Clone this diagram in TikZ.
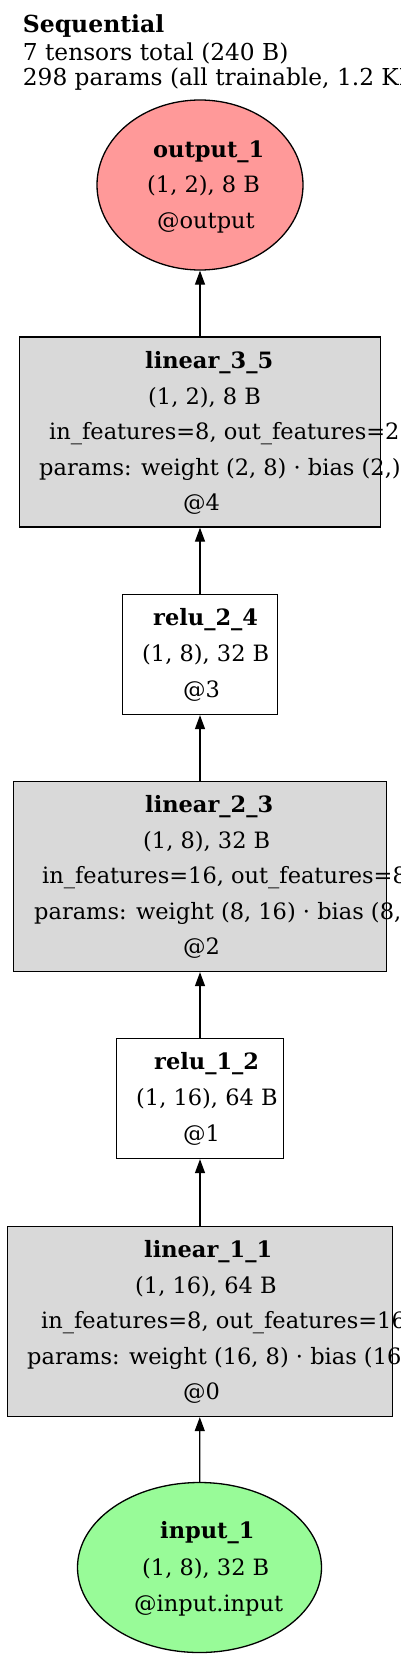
\documentclass[tikz,border=0pt]{standalone}
\usepackage{fontspec}
\setmainfont{DejaVu Serif}
\usetikzlibrary{arrows.meta,shapes.geometric}
\definecolor{boxgray}{RGB}{217,217,217}
\definecolor{outred}{RGB}{255,153,153}
\definecolor{ingreen}{RGB}{152,251,152}
\tikzset{
 basenode/.style={draw=black, line width=1.3pt, inner sep=0pt},
 layerbox/.style={basenode, rectangle, fill=boxgray, minimum height=190pt},
 relubox/.style={basenode, rectangle, fill=white, minimum height=120pt},
 outnode/.style={basenode, ellipse, fill=outred},
 innode/.style={basenode, ellipse, fill=ingreen},
 conn/.style={line width=1.3pt, -{Triangle[length=14pt,width=10pt]}},
 txt/.style={anchor=base west, inner sep=0pt, font=\fontsize{22.5}{27}\selectfont},
 ttl/.style={txt, font=\fontsize{22.5}{27}\selectfont\bfseries},
 hdr/.style={anchor=base west, inner sep=0pt, font=\fontsize{23.3}{24}\selectfont},
}
\begin{document}
\begin{tikzpicture}[x=1pt,y=1pt]
\useasboundingbox (0,0) rectangle (400,-1662);
\node[hdr, font=\fontsize{23.5}{24}\selectfont\bfseries] (h1) at (22.7,-33) {Sequential};
\node[hdr] (h2) at (22.7,-61) {7 tensors total (240 B)};
\node[hdr] (h3) at (22.7,-85) {298 params (all trainable, 1.2 KB)};

% shapes
\node[outnode, minimum width=206pt, minimum height=170pt] (out) at (200,-185) {};
\node[layerbox, minimum width=361pt] (lin3) at (200,-432) {};
\node[relubox, minimum width=155pt] (relu2) at (200,-654.5) {};
\node[layerbox, minimum width=373pt] (lin2) at (200,-876.5) {};
\node[relubox, minimum width=167pt] (relu1) at (200,-1098.5) {};
\node[layerbox, minimum width=385pt] (lin1) at (200,-1321.5) {};
\node[innode, minimum width=244pt, minimum height=170pt] (in) at (199.5,-1567.5) {};

% labels
\node[ttl] (outA) at (153,-157) {output\_1};
\node[txt] (outB) at (147,-192.5) {(1, 2), 8 B};
\node[txt] (outC) at (157,-228) {@output};

\node[ttl] (l3A) at (145,-368) {linear\_3\_5};
\node[txt] (l3B) at (148,-404) {(1, 2), 8 B};
\node[txt] (l3C) at (49,-439) {in\_features=8, out\_features=2};
\node[txt] (l3D) at (39,-475) {params: weight (2, 8) · bias (2,)};
\node[txt] (l3E) at (183,-510) {@4};

\node[ttl] (r2A) at (153,-625) {relu\_2\_4};
\node[txt] (r2B) at (142,-661.5) {(1, 8), 32 B};
\node[txt] (r2C) at (183,-697) {@3};

\node[ttl] (l2A) at (145,-812) {linear\_2\_3};
\node[txt] (l2B) at (143,-848) {(1, 8), 32 B};
\node[txt] (l2C) at (42,-883) {in\_features=16, out\_features=8};
\node[txt] (l2D) at (34,-919) {params: weight (8, 16) · bias (8,)};
\node[txt] (l2E) at (183,-954) {@2};

\node[ttl] (r1A) at (154,-1069) {relu\_1\_2};
\node[txt] (r1B) at (136,-1105.5) {(1, 16), 64 B};
\node[txt] (r1C) at (183,-1141) {@1};

\node[ttl] (l1A) at (144,-1257) {linear\_1\_1};
\node[txt] (l1B) at (135,-1293) {(1, 16), 64 B};
\node[txt] (l1C) at (41,-1328) {in\_features=8, out\_features=16};
\node[txt] (l1D) at (27,-1364) {params: weight (16, 8) · bias (16,)};
\node[txt] (l1E) at (183,-1399) {@0};

\node[ttl] (inA) at (160,-1538) {input\_1};
\node[txt] (inB) at (142,-1575.5) {(1, 8), 32 B};
\node[txt] (inC) at (134,-1611) {@input.input};

% connectors
\draw[conn] (in) -- (lin1);
\draw[conn] (lin1) -- (relu1);
\draw[conn] (relu1) -- (lin2);
\draw[conn] (lin2) -- (relu2);
\draw[conn] (relu2) -- (lin3);
\draw[conn] (lin3) -- (out);
\end{tikzpicture}
\end{document}
